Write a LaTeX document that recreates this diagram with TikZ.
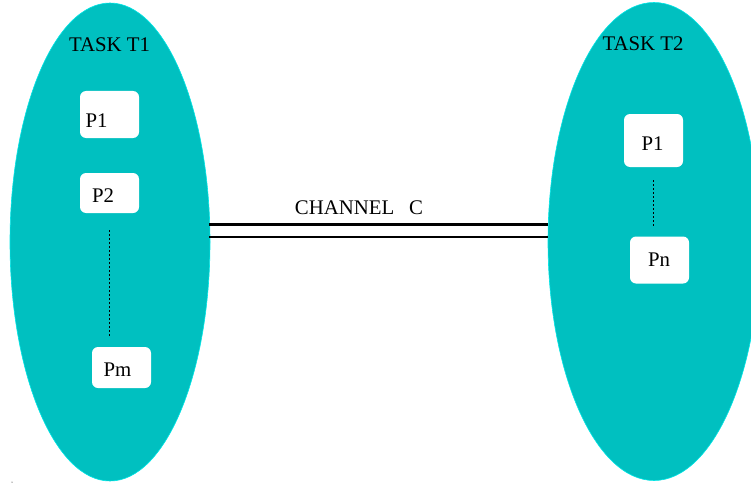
\documentclass[tikz,border=0pt]{standalone}
\usepackage{fontspec}
\setmainfont{Liberation Serif}
\usetikzlibrary{shapes.geometric}
\definecolor{taskfill}{RGB}{0,192,192}
\definecolor{taskedge}{RGB}{0,230,230}
\tikzset{
  task/.style={ellipse, fill=taskfill, draw=taskedge, line width=0.6pt, inner sep=0pt},
  procbox/.style={rectangle, rounded corners=6pt, fill=white, inner sep=0pt},
  lbl/.style={anchor=base, inner sep=0pt, font=\fontsize{20.8}{24}\selectfont},
  dotline/.style={line width=1.5pt, dash pattern=on 1.3pt off 2.7pt},
  chan/.style={line width=2.7pt}
}
\begin{document}
\begin{tikzpicture}[x=1pt,y=-1pt]
\useasboundingbox (0,0) rectangle (751,484);
% tasks
\node[task, minimum width=200, minimum height=478] (t1) at (110,242) {};
\node[task, minimum width=212, minimum height=478] (t2) at (654,241.5) {};
% boxes in T1
\node[procbox, minimum width=59, minimum height=47] (b11) at (109.5,114.5) {};
\node[procbox, minimum width=59, minimum height=40] (b12) at (109.5,193) {};
\node[procbox, minimum width=59, minimum height=41] (b1m) at (121.5,367.5) {};
% boxes in T2
\node[procbox, minimum width=59, minimum height=53] (b21) at (653.5,140.5) {};
\node[procbox, minimum width=59, minimum height=47] (b2n) at (659.5,260) {};
% labels
\node[lbl] (lt1) at (109.5,51.5) {TASK T1};
\node[lbl] (lt2) at (643,51) {TASK T2};
\node[lbl] (l11) at (96.5,127.5) {P1};
\node[lbl] (l12) at (103,202.5) {P2};
\node[lbl] (l1m) at (117.5,376.5) {Pm};
\node[lbl] (l21) at (652.5,150) {P1};
\node[lbl] (l2n) at (659,266) {Pn};
\node[lbl] (lch) at (359,214) {CHANNEL\hspace{15pt}C};
% dotted links
\draw[dotline] ([yshift=-17pt]b12.south) -- ([yshift=11pt]b12.south |- b1m.north);
\draw[dotline] ([yshift=-13pt]b21.south) -- ([yshift=9pt]b21.south |- b2n.north);
% channel
\coordinate (c1a) at (209,224.5);
\coordinate (c1b) at (209,237);
\draw[chan] (c1a) -- (c1a -| t2.west);
\draw[chan] (c1b) -- (c1b -| t2.west);
% tiny dot
\fill (12,482) circle (0.5pt);
\end{tikzpicture}
\end{document}
